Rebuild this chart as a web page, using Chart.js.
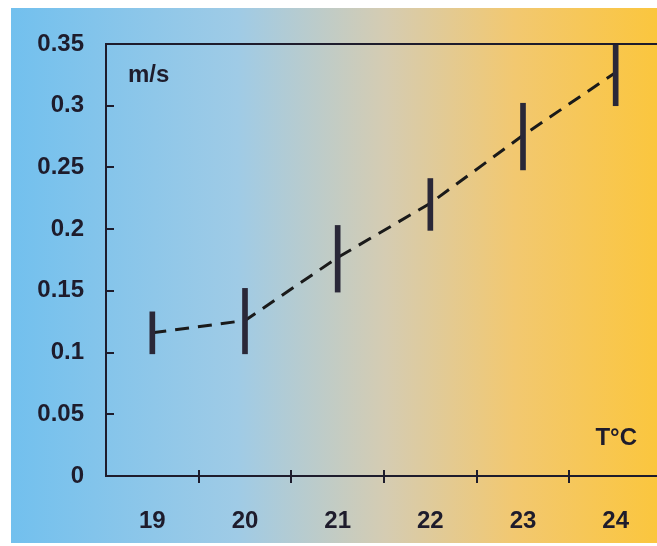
<!DOCTYPE html>
<html>
<head>
<meta charset="utf-8">
<script src="https://cdn.jsdelivr.net/npm/chart.js@4/dist/chart.umd.min.js"></script>
<style>
html,body{margin:0;padding:0;background:#fff;overflow:hidden;}
#wrap{width:657px;height:546px;position:relative;overflow:hidden;}
</style>
</head>
<body>
<div id="wrap"><canvas id="c" width="662" height="546"></canvas></div>
<script>
const categories = ["19", "20", "21", "22", "23", "24"];
const meanSpeed = [0.116, 0.126, 0.177, 0.221, 0.276, 0.327];
const lowSpeed  = [0.099, 0.099, 0.149, 0.199, 0.248, 0.300];
const highSpeed = [0.133, 0.152, 0.203, 0.241, 0.302, 0.352];
const yUnitLabel = "m/s";
const xUnitLabel = "T°C";

const errorRanges = lowSpeed.map((v, i) => [v, highSpeed[i]]);
const FONT = "'Liberation Sans', Arial, sans-serif";
const INK = "#1e1c2c";

const decor = {
  id: 'decor',
  beforeDraw(chart) {
    const ctx = chart.ctx;
    const g = ctx.createLinearGradient(11, 0, 657, 0);
    g.addColorStop(0, '#72c0ee');
    g.addColorStop(0.35, '#9fcbe6');
    g.addColorStop(0.58, '#d5ccb2');
    g.addColorStop(0.78, '#f2c870');
    g.addColorStop(1, '#fbc63e');
    ctx.save();
    ctx.fillStyle = g;
    ctx.fillRect(11, 8, chart.width - 11, 535);
    ctx.restore();
  },
  afterDraw(chart) {
    const ctx = chart.ctx;
    const a = chart.chartArea;
    const xs = chart.scales.x, ys = chart.scales.y;
    ctx.save();
    ctx.strokeStyle = INK;
    ctx.lineWidth = 2;
    ctx.beginPath();
    ctx.moveTo(a.left, a.top);
    ctx.lineTo(chart.width, a.top);
    ctx.stroke();
    ys.ticks.forEach(t => {
      if (t.value <= 0 || t.value >= 0.349) return;
      const y = Math.round(ys.getPixelForValue(t.value));
      ctx.beginPath();
      ctx.moveTo(a.left, y);
      ctx.lineTo(a.left + 8, y);
      ctx.stroke();
    });
    for (let i = 0; i < categories.length - 1; i++) {
      const x = Math.round((xs.getPixelForValue(i) + xs.getPixelForValue(i + 1)) / 2);
      ctx.beginPath();
      ctx.moveTo(x, a.bottom - 6);
      ctx.lineTo(x, a.bottom + 7);
      ctx.stroke();
    }
    ctx.fillStyle = INK;
    ctx.font = "bold 24px " + FONT;
    ctx.textBaseline = 'middle';
    ctx.textAlign = 'left';
    ctx.fillText(yUnitLabel, a.left + 22, 75);
    ctx.textAlign = 'right';
    ctx.fillText(xUnitLabel, 637, 438);
    ctx.restore();
  }
};

new Chart(document.getElementById('c'), {
  type: 'bar',
  data: {
    labels: categories,
    datasets: [
      {
        type: 'line',
        data: meanSpeed,
        borderColor: '#1a1a1a',
        borderWidth: 3,
        borderDash: [14, 9],
        pointRadius: 0,
        fill: false,
        tension: 0,
        order: 2
      },
      {
        type: 'bar',
        data: errorRanges,
        backgroundColor: '#2a2838',
        barThickness: 5,
        borderWidth: 0,
        borderSkipped: false,
        order: 1
      }
    ]
  },
  options: {
    responsive: false,
    animation: false,
    layout: { padding: { top: 44, right: 0, left: 0, bottom: 0 } },
    plugins: { legend: { display: false }, tooltip: { enabled: false } },
    scales: {
      x: {
        grid: { display: false, drawTicks: false },
        border: { display: true, color: INK, width: 2 },
        ticks: { color: INK, font: { family: FONT, size: 24, weight: 'bold' }, padding: 31 },
        afterFit(s) { s.height = 70; }
      },
      y: {
        min: 0, max: 0.35,
        grid: { display: false, drawTicks: false },
        border: { display: true, color: INK, width: 2 },
        ticks: {
          stepSize: 0.05,
          color: INK,
          padding: 22,
          font: { family: FONT, size: 24, weight: 'bold' },
          callback: v => String(Number(v.toFixed(2)))
        },
        afterFit(s) { s.width = 106; }
      }
    }
  },
  plugins: [decor]
});
</script>
</body>
</html>
